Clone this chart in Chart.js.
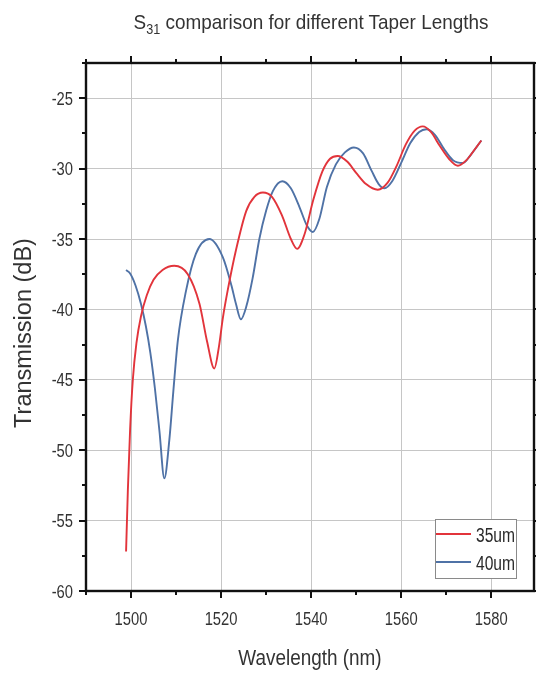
<!DOCTYPE html>
<html>
<head>
<meta charset="utf-8">
<script src="https://cdn.jsdelivr.net/npm/chart.js@4.4.1/dist/chart.umd.min.js"></script>
<style>
  html, body { margin: 0; padding: 0; background: #ffffff; }
  #wrap { position: relative; width: 536px; height: 677px; }
  #title {
    position: absolute; left: 86px; width: 450px; top: 9px;
    text-align: center; color: #333333; white-space: nowrap;
    font-family: 'Liberation Sans', Arial, sans-serif;
    font-size: 21px; line-height: 26px;
    transform: scaleX(0.9); transform-origin: 225px 0;
  }
  #title sub { font-size: 14px; vertical-align: -5px; line-height: 0; }
  canvas { position: absolute; left: 0; top: 0; }
</style>
</head>
<body>
<div id="wrap">
  <canvas id="chart" width="536" height="677"></canvas>
  <div id="title">S<sub>31</sub> comparison for different Taper Lengths</div>
</div>
<script>
// Taper length 35 um: wavelength (nm) and transmission (dB)
const wl35 = [1498.9, 1499.3, 1499.8, 1500.4, 1501.2, 1502.2, 1503.5, 1505.0, 1507.0, 1509.6,
              1512.6, 1515.2, 1516.9, 1518.5, 1519.5, 1520.4, 1521.5, 1523.3, 1525.6, 1527.4,
              1529.3, 1531.3, 1533.5, 1535.5, 1536.9, 1538.5, 1540.5, 1542.5, 1544.2, 1545.9,
              1548.0, 1550.0, 1552.2, 1554.8, 1557.0, 1559.0, 1561.0, 1563.0, 1564.8, 1566.6,
              1568.6, 1570.6, 1572.6, 1574.5, 1576.2, 1577.8];
const tr35 = [-57.2, -52.8, -48.5, -45.0, -42.4, -40.5, -39.0, -37.9, -37.2, -36.9,
              -37.5, -39.6, -42.3, -44.2, -42.7, -40.6, -38.6, -35.8, -33.0, -32.0,
              -31.7, -32.0, -33.3, -35.0, -35.7, -34.7, -32.2, -30.2, -29.3, -29.1,
              -29.5, -30.3, -31.1, -31.5, -31.0, -29.8, -28.3, -27.3, -27.0, -27.4,
              -28.4, -29.3, -29.8, -29.4, -28.7, -28.0];

// Taper length 40 um
const wl40 = [1498.9, 1499.8, 1501.0, 1502.2, 1503.3, 1504.3, 1505.3, 1506.3, 1507.4, 1508.5,
              1509.4, 1510.4, 1512.2, 1514.4, 1517.4, 1520.4, 1522.3, 1523.3, 1524.4, 1525.6,
              1527.0, 1528.5, 1530.0, 1531.5, 1533.6, 1535.5, 1537.5, 1539.0, 1540.4, 1541.8,
              1543.5, 1545.5, 1547.5, 1549.5, 1551.5, 1553.5, 1555.0, 1556.3, 1558.0, 1560.0,
              1562.0, 1564.0, 1565.6, 1567.5, 1569.5, 1571.5, 1573.7, 1575.5, 1577.8];
const tr40 = [-37.2, -37.45, -38.3, -39.6, -41.2, -43.1, -45.6, -48.6, -52.0, -49.3,
              -45.8, -42.2, -38.7, -36.05, -35.0, -36.3, -38.3, -39.6, -40.7, -39.8,
              -37.8, -35.0, -33.0, -31.6, -30.9, -31.4, -32.8, -34.0, -34.5, -33.6,
              -31.3, -29.7, -28.85, -28.5, -28.9, -30.2, -31.1, -31.4, -30.9, -29.6,
              -28.2, -27.4, -27.2, -27.6, -28.6, -29.4, -29.6, -29.0, -28.0];

const seriesLabels = ['35um', '40um'];
const xTicks = [1500, 1520, 1540, 1560, 1580];
const yTicks = [-25, -30, -35, -40, -45, -50, -55, -60];
const xTitle = 'Wavelength (nm)';
const yTitle = 'Transmission (dB)';

const RED = '#e2343b';
const BLUE = '#4f72a6';
const FONT = "'Liberation Sans', Arial, sans-serif";
const TEXT = '#333333';

function pairs(xs, ys) { return xs.map((x, i) => ({ x: x, y: ys[i] })); }

function minorsOf(major) {
  const step = major[1] - major[0];
  const out = [];
  for (let i = 0; i < major.length; i++) out.push(major[i] - step / 2);
  out.push(major[major.length - 1] + step / 2);
  return out;
}

// Text squeezed horizontally (narrow face look)
function narrowText(ctx, str, x, y, size, squeeze, align, angle) {
  ctx.save();
  ctx.translate(x, y);
  if (angle) ctx.rotate(angle);
  ctx.scale(squeeze, 1);
  ctx.font = size + 'px ' + FONT;
  ctx.textAlign = align;
  ctx.textBaseline = 'alphabetic';
  ctx.fillText(str, 0, 0);
  ctx.restore();
}

// Closed black frame with outward major/minor tick marks on all four sides
const framePlugin = {
  id: 'frame',
  afterDatasetsDraw(chart) {
    const { ctx, chartArea: a, scales: { x, y } } = chart;
    ctx.save();
    ctx.strokeStyle = '#111111';
    const major = 7, minor = 4;
    ctx.lineWidth = 2;
    const xMin = minorsOf(xTicks), yMin = minorsOf(yTicks);
    ctx.beginPath();
    xTicks.concat(xMin).forEach((v, i) => {
      if (v < x.min || v > x.max) return;
      const len = i < xTicks.length ? major : minor;
      const px = Math.round(x.getPixelForValue(v));
      ctx.moveTo(px, a.bottom); ctx.lineTo(px, a.bottom + len);
      ctx.moveTo(px, a.top); ctx.lineTo(px, a.top - len);
    });
    yTicks.concat(yMin).forEach((v, i) => {
      if (v < y.min || v > y.max) return;
      const len = i < yTicks.length ? major : minor;
      const py = Math.round(y.getPixelForValue(v));
      ctx.moveTo(a.left, py); ctx.lineTo(a.left - len, py);
      ctx.moveTo(a.right, py); ctx.lineTo(a.right + len, py);
    });
    ctx.stroke();
    ctx.lineWidth = 2.4;
    ctx.strokeRect(a.left, a.top, a.right - a.left, a.bottom - a.top);

    // tick labels and axis titles
    ctx.fillStyle = TEXT;
    xTicks.forEach(v => narrowText(ctx, String(v), x.getPixelForValue(v), a.bottom + 34, 18, 0.82, 'center'));
    yTicks.forEach(v => narrowText(ctx, String(v), a.left - 13, y.getPixelForValue(v) + 6.5, 18, 0.82, 'right'));
    narrowText(ctx, xTitle, (a.left + a.right) / 2, 665, 22, 0.86, 'center');
    narrowText(ctx, yTitle, 31, 333, 23.5, 1.0, 'center', -Math.PI / 2);
    ctx.restore();
  }
};

// Boxed legend in the lower-right corner of the plot
const boxLegend = {
  id: 'boxLegend',
  afterDraw(chart) {
    const { ctx, chartArea: a } = chart;
    const w = 81, h = 59;
    const bx = a.right - 18 - w, by = a.bottom - 13 - h;
    ctx.save();
    ctx.fillStyle = '#ffffff';
    ctx.fillRect(bx, by, w, h);
    ctx.strokeStyle = '#8a8a8a';
    ctx.lineWidth = 1;
    ctx.strokeRect(bx + 0.5, by + 0.5, w, h);
    chart.data.datasets.forEach((ds, i) => {
      const ly = by + 15 + i * 28;
      ctx.strokeStyle = ds.borderColor;
      ctx.lineWidth = 2;
      ctx.beginPath();
      ctx.moveTo(bx + 1, ly); ctx.lineTo(bx + 36, ly);
      ctx.stroke();
      ctx.fillStyle = '#2a2a2a';
      narrowText(ctx, ds.label, bx + 41, ly + 7.5, 20, 0.78, 'left');
    });
    ctx.restore();
  }
};

new Chart(document.getElementById('chart'), {
  type: 'line',
  data: {
    datasets: [
      { label: seriesLabels[0], data: pairs(wl35, tr35), borderColor: RED },
      { label: seriesLabels[1], data: pairs(wl40, tr40), borderColor: BLUE }
    ]
  },
  options: {
    responsive: false,
    animation: false,
    parsing: false,
    layout: { padding: { top: 63, right: 2, left: 0, bottom: 0 } },
    elements: {
      line: { borderWidth: 1.9, cubicInterpolationMode: 'monotone', fill: false },
      point: { radius: 0 }
    },
    plugins: { legend: { display: false }, tooltip: { enabled: false } },
    scales: {
      x: {
        type: 'linear', min: 1490, max: 1589.5,
        afterBuildTicks: s => { s.ticks = xTicks.map(v => ({ value: v })); },
        afterFit: s => { s.height = 86; },
        grid: { color: '#c6c6c6', lineWidth: 1, drawTicks: false },
        border: { display: false },
        ticks: { display: false }
      },
      y: {
        type: 'linear', min: -60, max: -22.5,
        afterBuildTicks: s => { s.ticks = yTicks.map(v => ({ value: v })); },
        afterFit: s => { s.width = 86; },
        grid: { color: '#c6c6c6', lineWidth: 1, drawTicks: false },
        border: { display: false },
        ticks: { display: false }
      }
    }
  },
  plugins: [framePlugin, boxLegend]
});
</script>
</body>
</html>
